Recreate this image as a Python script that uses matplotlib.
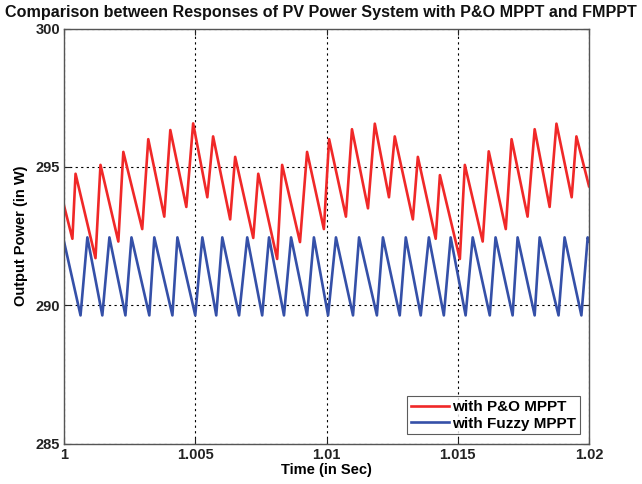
import matplotlib
matplotlib.use("Agg")
import matplotlib.pyplot as plt
from matplotlib.ticker import FixedLocator

# ---- data (vertices of the waveforms) ----
t_po = [1.0, 1.00032, 1.00044, 1.00120, 1.00139, 1.00207, 1.00226, 1.00298, 1.00321,
        1.00382, 1.00405, 1.00466, 1.00492, 1.00546, 1.00568, 1.00633, 1.00652, 1.00721,
        1.00740, 1.00812, 1.00831, 1.00899, 1.00926, 1.00990, 1.01010, 1.01074, 1.01097,
        1.01158, 1.01184, 1.01238, 1.01260, 1.01329, 1.01348, 1.01416, 1.01432, 1.01508,
        1.01527, 1.01595, 1.01618, 1.01683, 1.01705, 1.01766, 1.01793, 1.01850, 1.01876,
        1.01934, 1.01952, 1.02]
p_po = [293.6, 292.4, 294.75, 291.7, 295.07, 292.3, 295.54, 292.75, 296.0,
        293.2, 296.33, 293.55, 296.57, 293.9, 296.1, 293.1, 295.36, 292.43,
        294.75, 291.67, 295.07, 292.28, 295.54, 292.75, 296.0, 293.2, 296.36,
        293.5, 296.56, 293.9, 296.1, 293.1, 295.36, 292.4, 294.7, 291.67,
        295.07, 292.3, 295.56, 292.75, 296.0, 293.2, 296.36, 293.55, 296.56,
        293.9, 296.1, 294.3]

t_fz = [1.0, 1.00063, 1.00089, 1.00146, 1.00173, 1.00234, 1.00257, 1.00325, 1.00344,
        1.00413, 1.00432, 1.00500, 1.00527, 1.00580, 1.00603, 1.00667, 1.00698, 1.00755,
        1.00781, 1.00838, 1.00865, 1.00926, 1.00952, 1.01006, 1.01036, 1.01101, 1.01124,
        1.01192, 1.01215, 1.01279, 1.01302, 1.01359, 1.01390, 1.01447, 1.01473, 1.01530,
        1.01557, 1.01622, 1.01644, 1.01709, 1.01728, 1.01793, 1.01812, 1.01884, 1.01907,
        1.01971, 1.01995, 1.02]
p_fz = [292.3, 289.63, 292.45, 289.63, 292.45, 289.63, 292.45, 289.63, 292.45,
        289.63, 292.45, 289.63, 292.45, 289.63, 292.45, 289.63, 292.45, 289.63,
        292.45, 289.63, 292.45, 289.63, 292.45, 289.63, 292.45, 289.63, 292.45,
        289.63, 292.45, 289.63, 292.45, 289.63, 292.45, 289.63, 292.45, 289.63,
        292.45, 289.63, 292.45, 289.63, 292.45, 289.63, 292.45, 289.63, 292.45,
        289.63, 292.45, 292.3]

x_ticks = [1.0, 1.005, 1.01, 1.015, 1.02]
x_tick_labels = ["1", "1.005", "1.01", "1.015", "1.02"]
y_ticks = [285, 290, 295, 300]
y_tick_labels = ["285", "290", "295", "300"]

title = "Comparison between Responses of PV Power System with P&O MPPT and FMPPT"
xlabel = "Time (in Sec)"
ylabel = "Output Power (in W)"
series_names = ["with P&O MPPT", "with Fuzzy MPPT"]

plt.rcParams['font.family'] = ['Liberation Sans', 'DejaVu Sans']
plt.rcParams['font.weight'] = 'bold'

fig = plt.figure(figsize=(6.42, 4.84), dpi=100)
ax = fig.add_axes([64 / 642, 1 - 443.5 / 484, (589 - 64) / 642, (443.5 - 28.5) / 484])

ax.plot(t_po, p_po, color="#f02828", lw=1.9, label=series_names[0])
ax.plot(t_fz, p_fz, color="#3550a8", lw=1.9, label=series_names[1])

ax.set_xlim(1.0, 1.02)
ax.set_ylim(285, 300)
ax.xaxis.set_major_locator(FixedLocator(x_ticks))
ax.set_xticklabels(x_tick_labels)
ax.yaxis.set_major_locator(FixedLocator(y_ticks))
ax.set_yticklabels(y_tick_labels)
ax.tick_params(direction="in", length=4, width=0.8, labelsize=10.5, top=True, right=True,
               colors="#222222", pad=3)
ax.grid(True, color="black", linestyle=(0, (2, 3)), linewidth=0.8)
for s in ax.spines.values():
    s.set_color("#555555")
    s.set_linewidth(1.0)

fig.text(0.5, 1 - 13 / 484, title, fontsize=11.6, fontweight="bold",
         ha="center", va="center", color="#111111")
ax.set_xlabel(xlabel, fontsize=10.5, fontweight="bold", labelpad=1)
ax.set_ylabel(ylabel, fontsize=10.5, fontweight="bold", labelpad=5)

leg = ax.legend(loc="lower right", fontsize=11, frameon=True, fancybox=False,
                edgecolor="#333333", handlelength=2.5, borderpad=0.25,
                labelspacing=0.15, handletextpad=0.2, borderaxespad=0.6)
leg.get_frame().set_linewidth(0.8)

fig.savefig("out.png", dpi=100)
